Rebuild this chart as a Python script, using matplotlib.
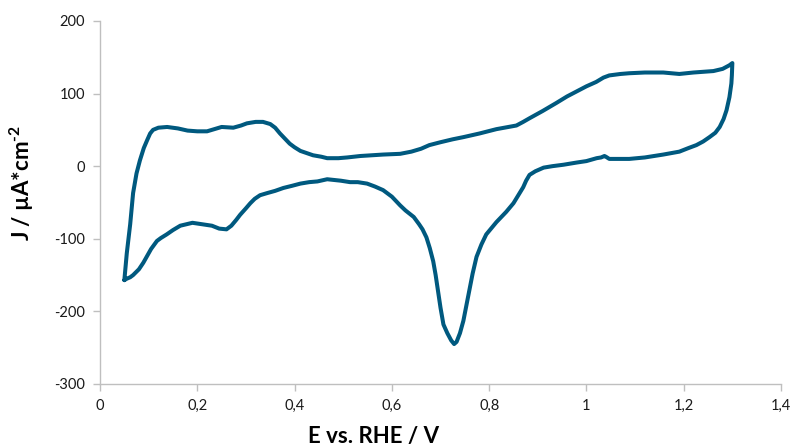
import matplotlib
matplotlib.use("Agg")
import matplotlib.pyplot as plt
from matplotlib.ticker import FixedLocator, FixedFormatter

plt.rcParams['font.family'] = ['Lato', 'DejaVu Sans']
plt.rcParams['axes.unicode_minus'] = False
plt.rcParams['mathtext.fontset'] = 'custom'
plt.rcParams['mathtext.bf'] = 'Lato:bold'
plt.rcParams['mathtext.rm'] = 'Lato:bold'

# forward (anodic) sweep
e_fwd = [0.050, 0.055, 0.062, 0.068, 0.075, 0.082, 0.090, 0.097, 0.103, 0.109,
         0.120, 0.138, 0.160, 0.180, 0.200, 0.220, 0.235, 0.250, 0.274, 0.290,
         0.302, 0.320, 0.335, 0.350, 0.360, 0.370, 0.380, 0.390, 0.400, 0.412,
         0.425, 0.438, 0.455, 0.467, 0.490, 0.508, 0.535, 0.560, 0.582, 0.617,
         0.640, 0.660, 0.677, 0.700, 0.725, 0.747, 0.780, 0.815, 0.840, 0.856,
         0.870, 0.883, 0.910, 0.938, 0.960, 0.986, 1.000, 1.020, 1.035, 1.047,
         1.070, 1.088, 1.120, 1.158, 1.191, 1.220, 1.261, 1.280, 1.294, 1.300]
j_fwd = [-157, -120, -80, -37, -10, 8, 25, 36, 45, 50,
         53, 54, 52, 49, 48, 48, 51, 54, 53, 56,
         59, 61, 61, 58, 53, 45, 38, 31, 26, 21,
         18, 15, 13, 11, 11, 12, 14, 15, 16, 17,
         20, 24, 29, 33, 37, 40, 45, 51, 54, 56,
         61, 66, 76, 87, 96, 105, 110, 116, 122, 125,
         127, 128, 129, 129, 127, 129, 131, 134, 139, 142]

# backward (cathodic) sweep
e_bwd = [1.300, 1.299, 1.298, 1.294, 1.288, 1.282, 1.274, 1.265, 1.253, 1.240,
         1.226, 1.210, 1.191, 1.175, 1.158, 1.120, 1.088, 1.060, 1.047, 1.040,
         1.037, 1.030, 1.021, 1.000, 0.980, 0.953, 0.930, 0.912, 0.895, 0.883,
         0.876, 0.870, 0.860, 0.850, 0.835, 0.815, 0.805, 0.794, 0.784, 0.774,
         0.766, 0.759, 0.753, 0.747, 0.740, 0.733, 0.728, 0.722, 0.714, 0.706,
         0.700, 0.695, 0.690, 0.685, 0.678, 0.671, 0.663, 0.656, 0.645, 0.628,
         0.617, 0.600, 0.582, 0.565, 0.549, 0.530, 0.514, 0.495, 0.480, 0.467,
         0.447, 0.430, 0.412, 0.395, 0.377, 0.360, 0.344, 0.329, 0.318, 0.309,
         0.300, 0.288, 0.280, 0.270, 0.260, 0.245, 0.230, 0.210, 0.190, 0.165,
         0.150, 0.137, 0.125, 0.117, 0.105, 0.095, 0.089, 0.080, 0.068, 0.062,
         0.055, 0.050]
j_bwd = [142, 125, 114, 95, 77, 65, 54, 46, 40, 34,
         29, 25, 20, 18, 16, 12, 10, 10, 10, 13,
         14, 12, 11, 7, 5, 2, 0, -2, -7, -12,
         -20, -29, -40, -51, -63, -77, -85, -94, -108, -125,
         -148, -172, -193, -213, -230, -242, -245, -240, -230, -218,
         -195, -172, -150, -131, -113, -98, -87, -80, -70, -61,
         -54, -42, -33, -28, -24, -22, -22, -20, -19, -18,
         -21, -22, -24, -27, -30, -34, -37, -40, -45, -51,
         -58, -67, -74, -82, -87, -86, -82, -80, -78, -82,
         -88, -94, -99, -103, -114, -126, -133, -142, -150, -153,
         -155, -157]

x_ticks = [0, 0.2, 0.4, 0.6, 0.8, 1.0, 1.2, 1.4]
x_labels = ['0', '0,2', '0,4', '0,6', '0,8', '1', '1,2', '1,4']
y_ticks = [-300, -200, -100, 0, 100, 200]

fig = plt.figure(figsize=(7.92, 4.48), dpi=100)
ax = fig.add_axes([0.1263, 0.1429, 0.8598, 0.8103])

ax.plot(e_fwd + e_bwd, j_fwd + j_bwd, color='#00597F', linewidth=2.9,
        solid_joinstyle='round', solid_capstyle='round')

ax.set_xlim(0, 1.4)
ax.set_ylim(-300, 200)
ax.xaxis.set_major_locator(FixedLocator(x_ticks))
ax.xaxis.set_major_formatter(FixedFormatter(x_labels))
ax.yaxis.set_major_locator(FixedLocator(y_ticks))

for side in ['top', 'right']:
    ax.spines[side].set_visible(False)
for side in ['left', 'bottom']:
    ax.spines[side].set_color('#BFBFBF')
    ax.spines[side].set_linewidth(1.0)
ax.tick_params(axis='both', direction='out', length=5, width=1.0,
               color='#BFBFBF', labelsize=10.5, labelcolor='#1a1a1a', pad=6)

ax.set_xlabel('E vs. RHE / V', fontsize=16, fontweight='bold')
ax.set_ylabel(r'J / µA*cm$^{\text{-2}}$', fontsize=16, fontweight='bold')
ax.xaxis.set_label_coords(0.402, -0.117)
ax.yaxis.set_label_coords(-0.094, 0.555)

fig.savefig('out.png', dpi=100)
